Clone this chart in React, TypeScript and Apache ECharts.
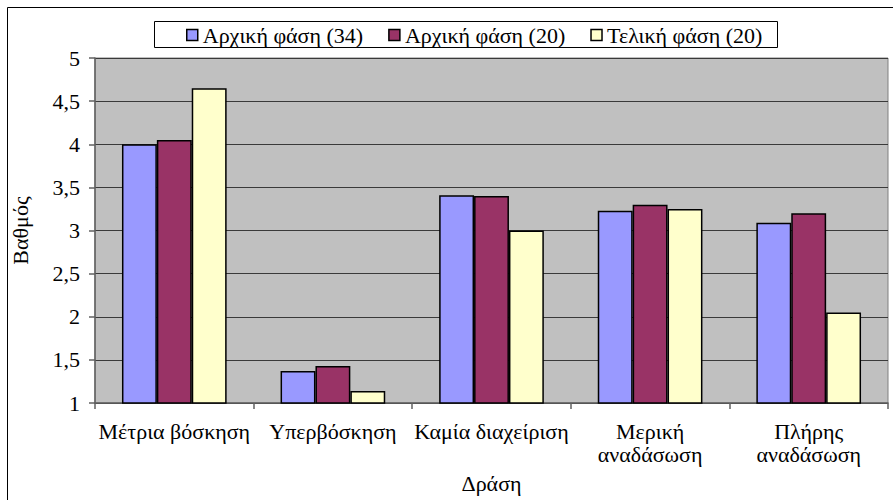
import React, { useEffect, useRef } from "react";
import * as echarts from "echarts";

const categories = [
  "Μέτρια βόσκηση",
  "Υπερβόσκηση",
  "Καμία διαχείριση",
  "Μερική\nαναδάσωση",
  "Πλήρης\nαναδάσωση",
];
const seriesNames = ["Αρχική φάση (34)", "Αρχική φάση (20)", "Τελική φάση (20)"];
const initial34 = [4.0, 1.37, 3.41, 3.23, 3.09];
const initial20 = [4.05, 1.43, 3.4, 3.3, 3.2];
const final20 = [4.65, 1.14, 3.0, 3.25, 2.05];
const colors = ["#9999ff", "#993366", "#ffffcc"];

const FONT = "Liberation Serif";
const FS = 22;

export default function App() {
  const ref = useRef<HTMLDivElement>(null);
  useEffect(() => {
    if (!ref.current) return;
    const chart = echarts.init(ref.current, undefined, { renderer: "svg" });
    const values = [initial34, initial20, final20];
    chart.setOption({
      animation: false,
      backgroundColor: "#ffffff",
      textStyle: { fontFamily: FONT, color: "#000" },
      graphic: [
        {
          type: "rect",
          shape: { x: 7.5, y: 7.5, width: 900, height: 500 },
          style: { fill: "none", stroke: "#000", lineWidth: 1 },
          silent: true,
          z: -10,
        },
        {
          type: "rect",
          shape: { x: 154.5, y: 21.5, width: 623, height: 26 },
          style: { fill: "#fff", stroke: "#000", lineWidth: 1 },
          silent: true,
          z: -5,
        },
      ],
      legend: {
        top: 24,
        left: 186,
        padding: 0,
        itemWidth: 11,
        itemHeight: 11,
        itemGap: 25,
        icon: "rect",
        textStyle: { fontFamily: FONT, fontSize: FS, color: "#000" },
        itemStyle: { borderColor: "#000", borderWidth: 1.5 },
        data: seriesNames,
      },
      grid: {
        left: 95,
        right: 5,
        top: 58,
        bottom: 97,
        show: true,
        backgroundColor: "#c0c0c0",
        borderColor: "#808080",
        borderWidth: 1,
      },
      xAxis: {
        type: "category",
        data: categories,
        boundaryGap: true,
        name: "Δράση",
        nameLocation: "middle",
        nameGap: 69,
        nameTextStyle: { fontFamily: FONT, fontSize: FS, color: "#000" },
        axisLine: { show: true, lineStyle: { color: "#606060", width: 1.5 } },
        axisTick: { show: true, length: 6, inside: false, lineStyle: { color: "#606060", width: 1.5 } },
        axisLabel: {
          fontFamily: FONT,
          fontSize: FS,
          color: "#000",
          margin: 17,
          lineHeight: 23,
          interval: 0,
        },
      },
      yAxis: {
        type: "value",
        min: 1,
        max: 5,
        interval: 0.5,
        name: "Βαθμός",
        nameLocation: "middle",
        nameGap: 64,
        nameRotate: 90,
        nameTextStyle: { fontFamily: FONT, fontSize: FS, color: "#000" },
        axisLine: { show: true, lineStyle: { color: "#606060", width: 1.5 } },
        axisTick: { show: true, length: 6, inside: false, lineStyle: { color: "#606060", width: 1.5 } },
        axisLabel: {
          fontFamily: FONT,
          fontSize: FS,
          color: "#000",
          margin: 15,
          formatter: (v: number) => String(v).replace(".", ","),
        },
        splitLine: { show: true, lineStyle: { color: "#3a3a3a", width: 1.2 } },
      },
      series: seriesNames.map((name, i) => ({
        name,
        type: "bar",
        data: values[i],
        barGap: "0%",
        barCategoryGap: "34%",
        itemStyle: { color: colors[i], borderColor: "#000", borderWidth: 1.5 },
      })),
    });
    return () => chart.dispose();
  }, []);
  return <div ref={ref} style={{ width: 893, height: 500, position: "absolute", left: 0, top: 0 }} />;
}
